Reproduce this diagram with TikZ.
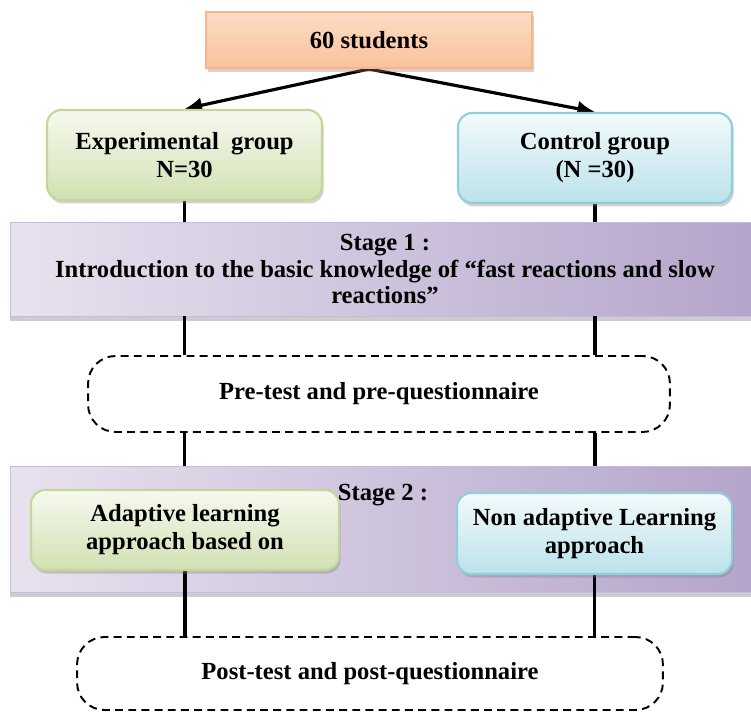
\documentclass[tikz,border=0pt]{standalone}
\usepackage{fontspec}
\setmainfont{Liberation Serif}
\usetikzlibrary{arrows,arrows.meta,shadows}
\pgfdeclarelayer{bandlayer}
\pgfdeclarelayer{edgelayer}
\pgfdeclarelayer{nodelayer}
\pgfsetlayers{bandlayer,edgelayer,nodelayer,main}
\definecolor{orangetop}{HTML}{FCDCC4}
\definecolor{orangebot}{HTML}{F9C29C}
\definecolor{orangeline}{HTML}{F5B68A}
\definecolor{greentop}{HTML}{F6F9EF}
\definecolor{greenbot}{HTML}{D1E1B2}
\definecolor{greenline}{HTML}{C3D69B}
\definecolor{bluetop}{HTML}{F3FAFC}
\definecolor{bluebot}{HTML}{BBE2EB}
\definecolor{blueline}{HTML}{92CDDC}
\definecolor{bandleft}{HTML}{E8E2EF}
\definecolor{bandmid}{HTML}{D5CCE2}
\definecolor{bandright}{HTML}{B4A4CA}
\definecolor{bandline}{HTML}{C6BBD8}
\tikzstyle{box}=[shape=rectangle, rounded corners=8pt, line width=1.2pt, align=center, font=\fontsize{14}{16}\selectfont\bfseries, drop shadow={shadow xshift=1pt, shadow yshift=-2pt, opacity=0.35}]
\tikzstyle{orange box}=[box, rounded corners=0pt, draw=orangeline, top color=orangetop, bottom color=orangebot, minimum width=6.52cm, minimum height=1.12cm]
\tikzstyle{green box}=[box, draw=greenline, top color=greentop, bottom color=greenbot]
\tikzstyle{blue box}=[box, draw=blueline, top color=bluetop, bottom color=bluebot]
\tikzstyle{stage band}=[shape=rectangle, draw=bandline, left color=bandleft, middle color=bandmid, right color=bandright, minimum width=15cm, align=center, font=\fontsize{14}{15}\selectfont\bfseries, drop shadow={shadow xshift=0pt, shadow yshift=-3pt, opacity=0.4}]
\tikzstyle{dashed box}=[shape=rectangle, draw=black, line width=1.1pt, dash pattern=on 4.5pt off 3pt, rounded corners=0.55cm, font=\fontsize{14}{16}\selectfont\bfseries]
\tikzstyle{none}=[fill=none, draw=none, font=\fontsize{14}{16}\selectfont\bfseries]
\tikzstyle{new edge style 0}=[draw=black, line width=2pt]
\tikzstyle{new edge style 1}=[draw=black, line width=1.8pt, -{Latex[length=10pt, width=9pt]}]

\begin{document}
\begin{tikzpicture}[x=0.02cm, y=-0.02cm]
	\useasboundingbox (0, 0) rectangle (751, 712);
	\begin{pgfonlayer}{bandlayer}
		\node [style=stage band, minimum height=1.88cm] (3) at (385, 269) {Stage 1 :\\Introduction to the basic knowledge of “fast reactions and slow\\reactions”};
		\node [style=stage band, minimum height=2.52cm] (5) at (385, 529) {};
	\end{pgfonlayer}
	\begin{pgfonlayer}{nodelayer}
		\node [style=orange box] (0) at (369, 40) {60 students};
		\node [style=green box, minimum width=5.5cm, minimum height=1.8cm] (1) at (184.5, 155) {Experimental~ group\\N=30};
		\node [style=blue box, minimum width=5.48cm, minimum height=1.8cm] (2) at (595, 158) {Control group\\(N =30)};
		\node [style=dashed box, minimum width=11.64cm, minimum height=1.52cm] (4) at (379, 394) {Pre-test and pre-questionnaire};
		\node [style=none] (6) at (383, 495) {Stage 2 :};
		\node [style=green box, minimum width=6.16cm, minimum height=1.6cm] (7) at (185, 530) {Adaptive learning\\approach based on};
		\node [style=blue box, minimum width=5.5cm, minimum height=1.62cm] (8) at (594.5, 533.5) {Non adaptive Learning\\approach};
		\node [style=dashed box, minimum width=11.72cm, minimum height=1.46cm] (9) at (370, 673.5) {Post-test and post-questionnaire};
	\end{pgfonlayer}
	\begin{pgfonlayer}{edgelayer}
		\draw [style=new edge style 1] (0.south) to (1.north);
		\draw [style=new edge style 1] (0.south) to (2.north);
		\draw [style=new edge style 0] (1.south) to (1.south |- 3.north);
		\draw [style=new edge style 0] (2.south) to (2.south |- 3.north);
		\draw [style=new edge style 0] (1.south |- 3.south) to (1.south |- 4.north);
		\draw [style=new edge style 0] (2.south |- 3.south) to (2.south |- 4.north);
		\draw [style=new edge style 0] (1.south |- 4.south) to (1.south |- 5.north);
		\draw [style=new edge style 0] (2.south |- 4.south) to (2.south |- 5.north);
		\draw [style=new edge style 0] (7.south) to (7.south |- 9.north);
		\draw [style=new edge style 0] (8.south) to (8.south |- 9.north);
	\end{pgfonlayer}
\end{tikzpicture}
\end{document}
